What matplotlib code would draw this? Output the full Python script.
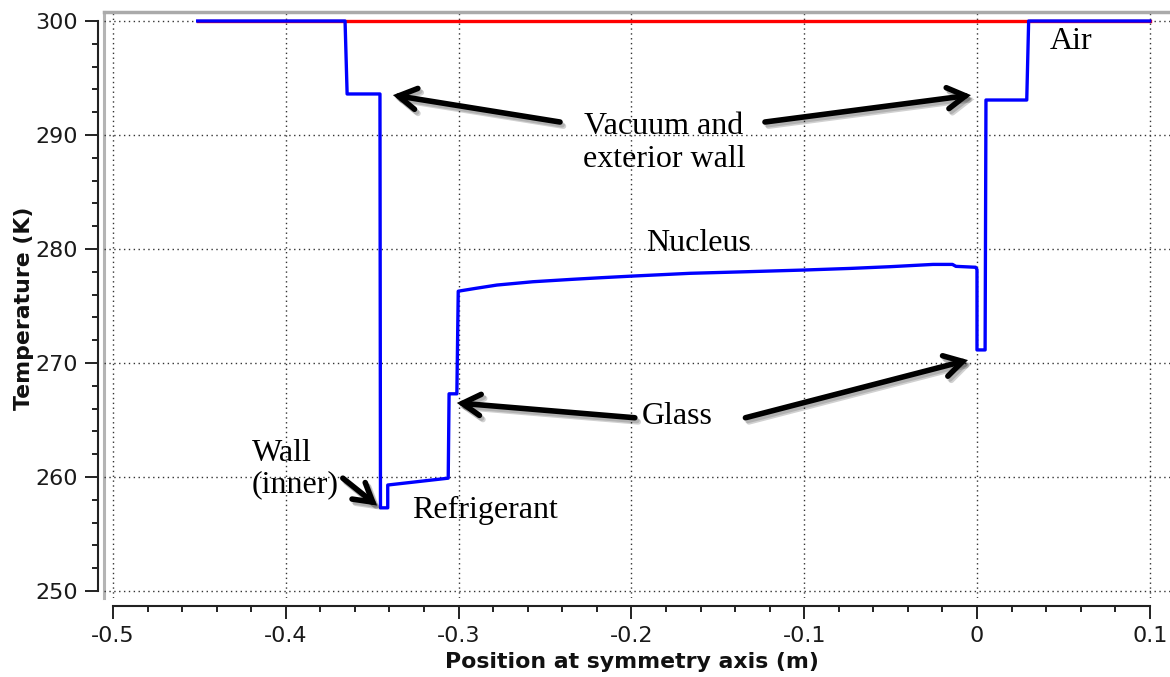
import matplotlib
matplotlib.use("Agg")
import matplotlib.pyplot as plt
import matplotlib.patheffects as pe
from matplotlib.ticker import MultipleLocator, FuncFormatter

# temperature along the symmetry axis (blue curve)
position = [-0.451, -0.3657, -0.3645, -0.3455, -0.3452, -0.3410, -0.3410,
            -0.3060, -0.3055, -0.3010, -0.3002, -0.2901, -0.2778, -0.2570,
            -0.2344, -0.2180, -0.1990, -0.1660, -0.1330, -0.0995, -0.0731,
            -0.0503, -0.0254, -0.0142, -0.0122, -0.0008, 0.0000, 0.0000,
            0.0047, 0.0052, 0.0288, 0.0299, 0.1000]
temperature = [300.0, 300.0, 293.6, 293.6, 257.3, 257.3, 259.3,
               259.9, 267.3, 267.3, 276.3, 276.55, 276.84, 277.13,
               277.34, 277.48, 277.63, 277.87, 278.01, 278.16, 278.30,
               278.45, 278.65, 278.65, 278.48, 278.40, 278.2, 271.15,
               271.15, 293.07, 293.07, 300.0, 300.0]

# ambient temperature (red curve)
ambient_position = [-0.451, 0.1]
ambient_temperature = [300.0, 300.0]

x_ticks = [-0.5, -0.4, -0.3, -0.2, -0.1, 0.0, 0.1]
y_ticks = [250, 260, 270, 280, 290, 300]


def fmt_x(v, _pos):
    s = f"{v:.1f}"
    return "0" if s in ("0.0", "-0.0") else s


def main():
    W, H = 1170, 677
    fig = plt.figure(figsize=(W / 100, H / 100), dpi=100)
    ax = fig.add_axes([104 / W, 1 - 598 / H, (W - 104) / W, (598 - 12) / H])

    ax.plot(ambient_position, ambient_temperature, color="#ff0000", lw=2.4,
            zorder=3)
    ax.plot(position, temperature, color="#0000ff", lw=2.4, zorder=4)

    ax.set_xlim(-0.5052, 0.1117)
    ax.set_ylim(249.39, 300.79)
    ax.set_xticks(x_ticks)
    ax.set_yticks(y_ticks)
    ax.xaxis.set_minor_locator(MultipleLocator(0.02))
    ax.yaxis.set_minor_locator(MultipleLocator(2))
    ax.xaxis.set_major_formatter(FuncFormatter(fmt_x))
    ax.yaxis.set_major_formatter(FuncFormatter(lambda v, p: f"{v:.0f}"))

    ax.grid(True, which="major", color="#333333", lw=1.0,
            linestyle=(0, (1, 2.5)))

    ax.spines["right"].set_visible(False)
    ax.spines["top"].set_color("#aaaaaa")
    ax.spines["top"].set_linewidth(2.5)
    ax.spines["left"].set_position(("outward", 4))
    ax.spines["left"].set_bounds(250, 300)
    ax.spines["left"].set_linewidth(1.5)
    ax.spines["left"].set_color("#222222")
    ax.spines["bottom"].set_position(("outward", 6))
    ax.spines["bottom"].set_bounds(-0.5, 0.1)
    ax.spines["bottom"].set_linewidth(1.5)
    ax.spines["bottom"].set_color("#222222")
    # gray frame line on the left side of the plotting area
    ax.plot([0, 0], [0, 1], transform=ax.transAxes, color="#b4b4b4",
            lw=2.2, clip_on=False, zorder=1)

    ax.tick_params(which="major", length=9.5, width=1.4, color="#222222",
                   labelsize=16, labelcolor="#1a1a1a", pad=5)
    ax.tick_params(which="minor", length=4.5, width=1.4, color="#222222")

    ax.set_xlabel("Position at symmetry axis (m)", fontsize=15.8,
                  fontweight="bold", color="#111111")
    ax.xaxis.set_label_coords(0.4953, -0.093)
    ax.set_ylabel("Temperature (K)", fontsize=15.8, fontweight="bold",
                  color="#111111")
    ax.yaxis.set_label_coords(-0.066, 0.494)

    serif = dict(family="Liberation Serif", fontsize=23, color="black",
                 zorder=6)
    ax.text(0.0422, 298.16, "Air", ha="left", va="center", **serif)
    ax.text(-0.1811, 289.3, "Vacuum and\nexterior wall", ha="center",
            va="center", multialignment="center", linespacing=1.15, **serif)
    ax.text(-0.1609, 280.5, "Nucleus", ha="center", va="center", **serif)
    ax.text(-0.1735, 265.3, "Glass", ha="center", va="center", **serif)
    ax.text(-0.4196, 260.7, "Wall\n(inner)", ha="left", va="center",
            multialignment="left", linespacing=1.1, **serif)
    ax.text(-0.327, 257.1, "Refrigerant", ha="left", va="center", **serif)

    arrows = [
        ((-0.2413, 291.14), (-0.338, 293.5)),
        ((-0.1227, 291.14), (-0.0035, 293.5)),
        ((-0.198, 265.2), (-0.301, 266.5)),
        ((-0.134, 265.2), (-0.0052, 270.26)),
        ((-0.367, 259.9), (-0.3472, 257.5)),
    ]
    shadow = [pe.SimpleLineShadow(offset=(2.5, -3), shadow_color="black",
                                  alpha=0.18),
              pe.SimpleLineShadow(offset=(1.5, -2), shadow_color="black",
                                  alpha=0.15),
              pe.Normal()]
    for tail, head in arrows:
        ax.annotate("", xy=head, xytext=tail,
                    arrowprops=dict(arrowstyle="->, head_length=0.65, head_width=0.38",
                                    lw=4, color="black", shrinkA=0, shrinkB=0,
                                    mutation_scale=20, capstyle="round",
                                    joinstyle="miter",
                                    path_effects=shadow),
                    zorder=7)

    fig.savefig("out.png", dpi=100, facecolor="white")


if __name__ == "__main__":
    plt.rcParams["axes.unicode_minus"] = False
    main()
